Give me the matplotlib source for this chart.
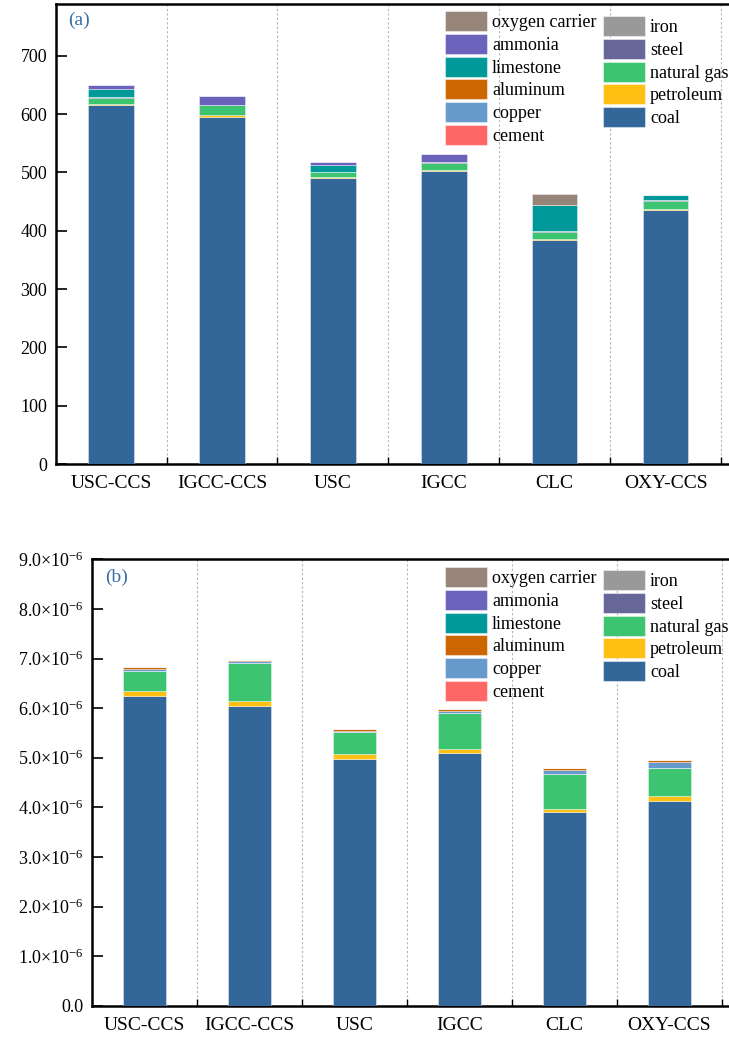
import matplotlib
matplotlib.use("Agg")
import matplotlib.pyplot as plt
import numpy as np
from matplotlib.patches import Patch
from matplotlib.ticker import FuncFormatter

plt.rcParams['font.family'] = ['Liberation Serif', 'DejaVu Serif']
plt.rcParams['mathtext.fontset'] = 'custom'
plt.rcParams['mathtext.rm'] = 'Liberation Serif'
plt.rcParams['mathtext.it'] = 'Liberation Serif:italic'

# Routes
categories = ["USC-CCS", "IGCC-CCS", "USC", "IGCC", "CLC", "OXY-CCS"]

# Materials from bottom of stack to top, with colours
materials = ["coal", "petroleum", "natural gas", "steel", "iron", "cement",
             "copper", "aluminum", "limestone", "ammonia", "oxygen carrier"]
colors = ["#336699", "#FFC014", "#3CC471", "#666699", "#999999", "#FF6666",
          "#6699CC", "#CC6600", "#009999", "#6A62BB", "#968578"]

# (a) contributions per route
coal_a = [616, 596, 491, 503, 384, 435]
petroleum_a = [2, 2, 2, 2, 2, 2.5]
natural_gas_a = [10, 17, 7, 12, 12, 13]
steel_a = [1, 1, 1, 1, 1.5, 1.5]
iron_a = [0, 0, 0, 0, 0, 0]
cement_a = [0, 0, 0, 0, 0, 0]
copper_a = [0, 0, 0, 0, 0, 0]
aluminum_a = [0, 0, 0, 0, 0, 0]
limestone_a = [14, 0, 11, 0, 45, 9]
ammonia_a = [7, 15, 6, 13, 0, 0]
oxygen_carrier_a = [0, 0, 0, 0, 18, 0]

# (b) contributions per route
coal_b = [6.25e-6, 6.04e-6, 4.98e-6, 5.10e-6, 3.90e-6, 4.13e-6]
petroleum_b = [0.09e-6, 0.10e-6, 0.09e-6, 0.08e-6, 0.07e-6, 0.10e-6]
natural_gas_b = [0.41e-6, 0.76e-6, 0.44e-6, 0.72e-6, 0.71e-6, 0.57e-6]
steel_b = [0, 0, 0, 0, 0, 0]
iron_b = [0, 0, 0, 0, 0, 0]
cement_b = [0, 0, 0, 0, 0, 0]
copper_b = [0.04e-6, 0.04e-6, 0.035e-6, 0.05e-6, 0.07e-6, 0.12e-6]
aluminum_b = [0.04e-6, 0.03e-6, 0.03e-6, 0.03e-6, 0.04e-6, 0.03e-6]
limestone_b = [0, 0, 0, 0, 0, 0]
ammonia_b = [0, 0, 0, 0, 0, 0]
oxygen_carrier_b = [0, 0, 0, 0, 0, 0]

stack_a = [coal_a, petroleum_a, natural_gas_a, steel_a, iron_a, cement_a,
           copper_a, aluminum_a, limestone_a, ammonia_a, oxygen_carrier_a]
stack_b = [coal_b, petroleum_b, natural_gas_b, steel_b, iron_b, cement_b,
           copper_b, aluminum_b, limestone_b, ammonia_b, oxygen_carrier_b]

W, H = 729, 1038
fig = plt.figure(figsize=(W / 100, H / 100), dpi=100)

ax_a = fig.add_axes([55.7 / W, 1 - 464 / H, 1 - 55.7 / W, 460 / H])
ax_b = fig.add_axes([92.3 / W, 1 - 1005.7 / H, 1 - 92.3 / W, 446.4 / H])

edge = (1, 1, 1, 0.45)


def draw_stack(ax, stack, width):
    x = np.arange(len(categories))
    bottom = np.zeros(len(categories))
    for vals, c in zip(stack, colors):
        vals = np.array(vals, dtype=float)
        ax.bar(x, vals, width, bottom=bottom, color=c, edgecolor=edge,
               linewidth=0.6, zorder=3)
        bottom += vals


def style_axes(ax, xmax):
    ax.set_xlim(-0.5, xmax)
    ax.set_xticks(np.arange(len(categories)), labels=categories)
    ax.set_xticks(np.arange(0.5, len(categories), 1), minor=True)
    ax.tick_params(axis='x', which='major', length=0, pad=8, labelsize=14)
    ax.tick_params(axis='x', which='minor', direction='in', length=5, width=1,
                   top=False)
    ax.tick_params(axis='y', direction='in', length=8, width=1.2, pad=6,
                   labelsize=13)
    ax.grid(axis='x', which='minor', linestyle=(0, (2, 2)), color='#b5b5b5',
            linewidth=0.8, zorder=0)
    ax.spines['right'].set_visible(False)
    for s in ['left', 'bottom', 'top']:
        ax.spines[s].set_linewidth(1.8)


def add_legend(ax, x0, y_top1, y_top2):
    h = [Patch(facecolor=c, edgecolor=edge, linewidth=0.8) for c in colors]
    lab = materials
    col1 = [10, 9, 8, 7, 6, 5]
    col2 = [4, 3, 2, 1, 0]
    kw = dict(frameon=False, loc='upper left', borderpad=0, borderaxespad=0,
              handlelength=2.3, handleheight=1.33, handletextpad=0.3,
              labelspacing=0.15, fontsize=13, bbox_transform=fig.transFigure)
    leg1 = ax.legend([h[i] for i in col1], [lab[i] for i in col1],
                     bbox_to_anchor=(x0 / W, 1 - y_top1 / H), **kw)
    ax.add_artist(leg1)
    ax.legend([h[i] for i in col2], [lab[i] for i in col2],
              bbox_to_anchor=(603 / W, 1 - y_top2 / H), **kw)


# (a)
draw_stack(ax_a, stack_a, 0.41)
style_axes(ax_a, 5.5 + 8 / 111)
ax_a.set_ylim(0, 789)
ax_a.set_yticks(np.arange(0, 701, 100))
ax_a.text(0.018, 0.965, "(a)", transform=ax_a.transAxes, color='#3A6EA5',
          fontsize=14, va='center', ha='left')
add_legend(ax_a, 445, 11, 16)

# (b)
draw_stack(ax_b, stack_b, 0.41)
style_axes(ax_b, 5.5 + 7 / 105)
ax_b.set_ylim(0, 9e-6)
ax_b.set_yticks(np.arange(0, 9.01e-6, 1e-6))


def sci_fmt(v, _):
    m = round(v * 1e6, 1)
    if m == 0:
        return "0.0"
    return r"$\mathregular{%.1f{\times}10^{-6}}$" % m


ax_b.yaxis.set_major_formatter(FuncFormatter(sci_fmt))
ax_b.text(0.02, 0.96, "(b)", transform=ax_b.transAxes, color='#3A6EA5',
          fontsize=14, va='center', ha='left')
add_legend(ax_b, 445, 567, 570)

fig.savefig("out.png", dpi=100)
